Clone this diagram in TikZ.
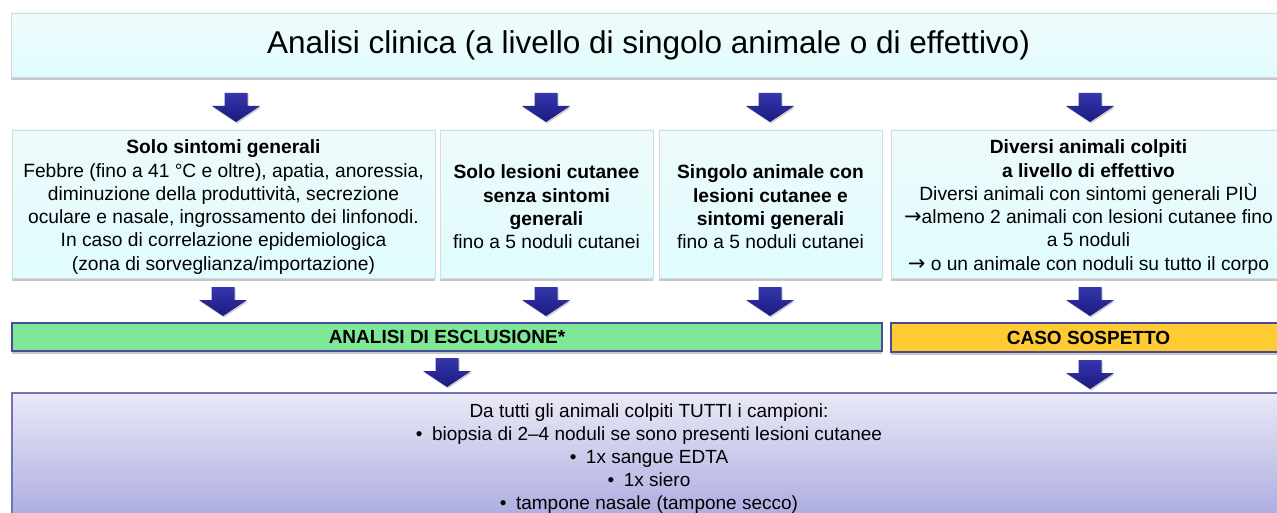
\documentclass[tikz,border=0pt]{standalone}
\usepackage{fontspec}
\setmainfont{Liberation Sans}
\newfontfamily\arrfont{DejaVu Sans}
\usetikzlibrary{shadows}
\definecolor{arrowtop}{HTML}{3636AE}
\definecolor{arrowbot}{HTML}{1A1A80}
\definecolor{cyantop}{HTML}{EEFAFB}
\definecolor{cyanbot}{HTML}{E0FCFE}
\definecolor{boxline}{HTML}{D2DCDC}
\definecolor{greenfill}{HTML}{7EE896}
\definecolor{yellowfill}{HTML}{FECB33}
\definecolor{barline}{HTML}{4B4B9E}
\definecolor{lavtop}{HTML}{E9E9F7}
\definecolor{lavbot}{HTML}{A9A9E0}
\definecolor{lavline}{HTML}{7272B8}
\newcommand{\rarr}{{\arrfont\fontsize{21}{20}\selectfont →}}
\newcommand{\tstrut}{\rule{0pt}{20pt}}
\tikzset{
  shd/.style={drop shadow={shadow xshift=0pt,shadow yshift=-3pt,fill=black,opacity=0.22}},
  cbox/.style={shd,draw=boxline,line width=0.8pt,top color=cyantop,bottom color=cyanbot,
    anchor=north west,inner sep=0pt,outer sep=0pt,align=center,
    font=\fontsize{19.2}{23.3}\selectfont},
  rowbox/.style={cbox,minimum height=148pt},
  bar/.style={shd,draw=barline,line width=1.3pt,anchor=north west,inner sep=0pt,outer sep=0pt,
    font=\fontsize{19}{22}\selectfont\bfseries},
  barrow/.pic={\path[drop shadow={shadow xshift=1pt,shadow yshift=-1.5pt,fill=black,opacity=0.2},
    top color=arrowtop,bottom color=arrowbot]
    (-11.5,0) -- (11.5,0) -- (11.5,13) -- (24,13) -- (0,29) -- (-24,13) -- (-11.5,13) -- cycle;}
}
\begin{document}
\begin{tikzpicture}[x=1pt,y=-1pt]
\useasboundingbox (0,0) rectangle (1277,513);
\clip (0,0) rectangle (1277,513);
% top box
\node[cbox,minimum width=1275pt,minimum height=64pt,top color=cyantop!80!white,bottom color=cyanbot,
  font=\fontsize{31.5}{36}\selectfont] (top) at (11,13) {Analisi clinica (a livello di singolo animale o di effettivo)};
% row of four boxes
\node[rowbox,minimum width=423pt] (b1) at (12,130)
 {\tstrut\textbf{Solo sintomi generali}\\Febbre (fino a 41 °C e oltre), apatia, anoressia,\\diminuzione della produttività, secrezione\\oculare e nasale, ingrossamento dei linfonodi.\\In caso di correlazione epidemiologica\\(zona di sorveglianza/importazione)};
\node[rowbox,minimum width=213pt] (b2) at (440,130)
 {\tstrut\textbf{Solo lesioni cutanee}\\\textbf{senza sintomi}\\\textbf{generali}\\fino a 5 noduli cutanei};
\node[rowbox,minimum width=223pt] (b3) at (659,130)
 {\tstrut\textbf{Singolo animale con}\\\textbf{lesioni cutanee e}\\\textbf{sintomi generali}\\fino a 5 noduli cutanei};
\node[rowbox,minimum width=395pt] (b4) at (891,130)
 {\tstrut\textbf{Diversi animali colpiti}\\\textbf{a livello di effettivo}\\Diversi animali con sintomi generali PIÙ\\\rarr almeno 2 animali con lesioni cutanee fino\\a 5 noduli\\\rarr\ o un animale con noduli su tutto il corpo};
% bars
\node[bar,fill=greenfill,minimum width=870pt,minimum height=28pt] (excl) at (12,323) {ANALISI DI ESCLUSIONE*};
\node[bar,fill=yellowfill,minimum width=395pt,minimum height=29pt] (sosp) at (891,323) {CASO SOSPETTO};
% bottom box
\node[shd,draw=lavline,line width=1.2pt,top color=lavtop,bottom color=lavbot,anchor=north west,
  inner sep=0pt,outer sep=0pt,minimum width=1274pt,minimum height=131pt,align=center,
  font=\fontsize{19}{23}\selectfont] (camp) at (12,393)
 {Da tutti gli animali colpiti TUTTI i campioni:\\
  •\enspace biopsia di 2–4 noduli se sono presenti lesioni cutanee\\
  •\enspace 1x sangue EDTA\\
  •\enspace 1x siero\\
  •\enspace tampone nasale (tampone secco)};
% block arrows
\pic at (236,93) {barrow};
\pic at (546,93) {barrow};
\pic at (770,93) {barrow};
\pic at (1090,93) {barrow};
\pic at (223,287) {barrow};
\pic at (546,287) {barrow};
\pic at (770,287) {barrow};
\pic at (1090,287) {barrow};
\pic at (447,358) {barrow};
\pic at (1090,360) {barrow};
\end{tikzpicture}
\end{document}
